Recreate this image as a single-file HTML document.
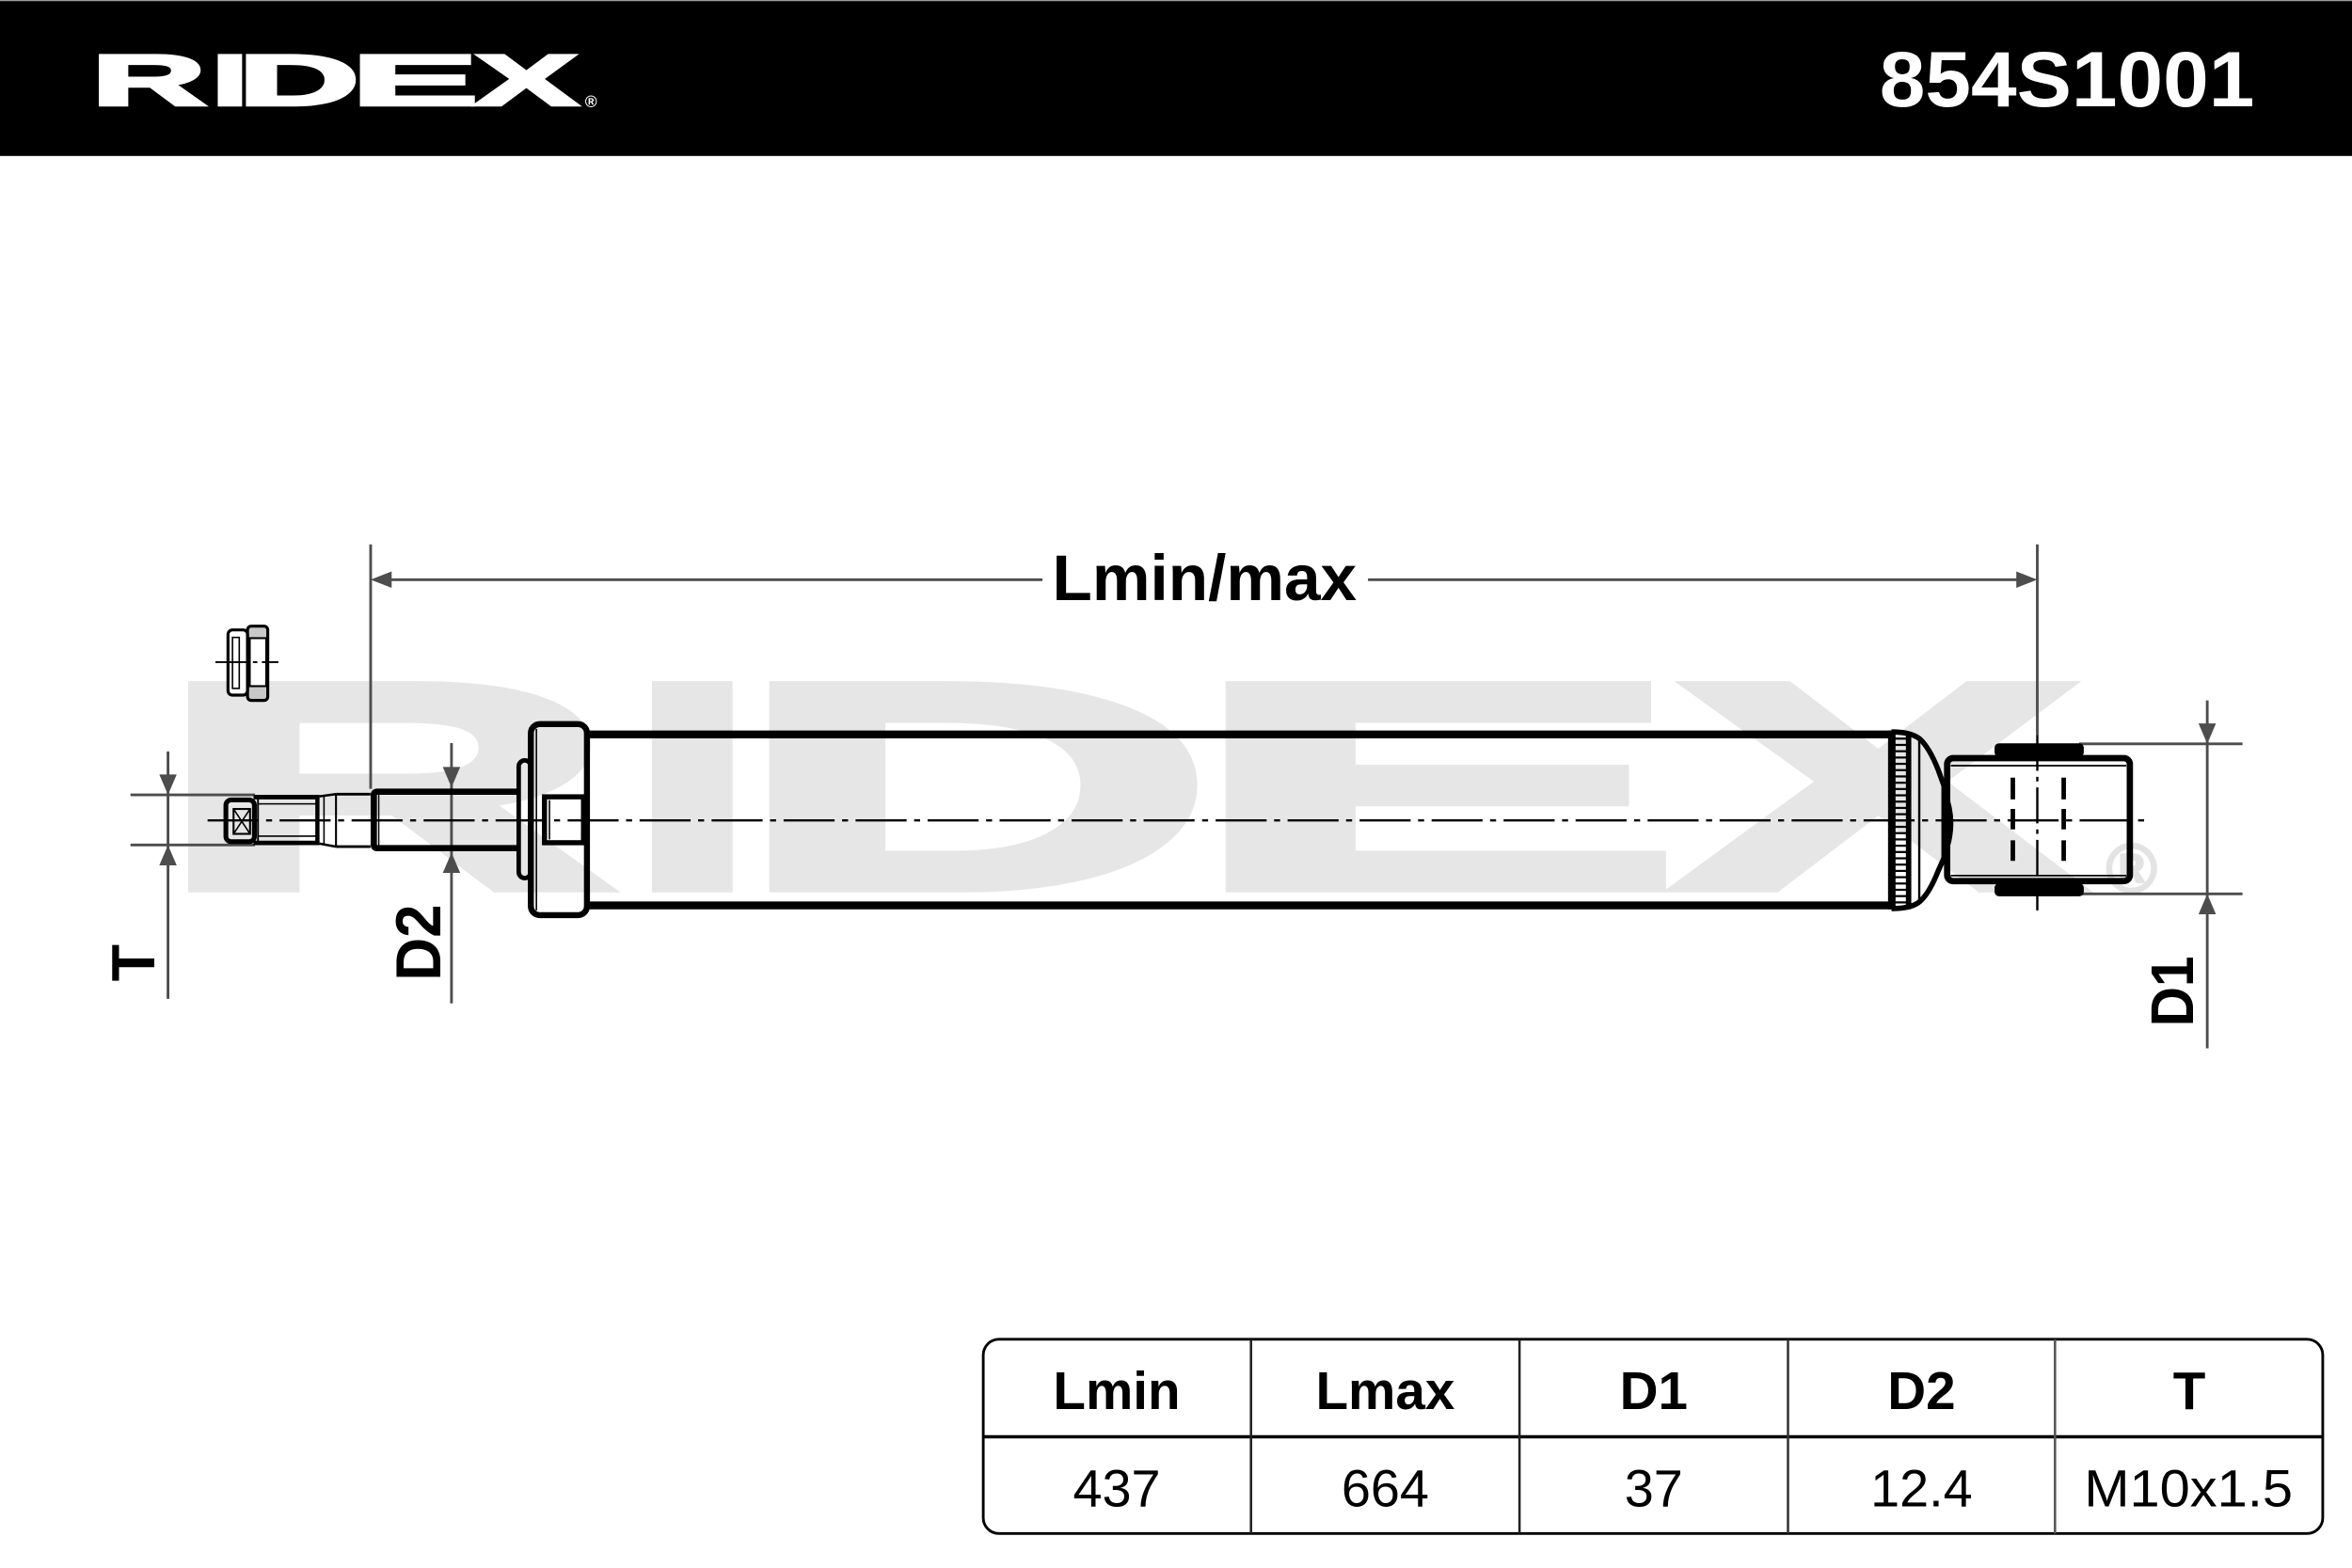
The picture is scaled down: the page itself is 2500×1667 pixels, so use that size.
<!DOCTYPE html>
<html>
<head>
<meta charset="utf-8">
<style>
  html, body { margin: 0; padding: 0; background: #ffffff; }
  body { width: 2500px; height: 1667px; overflow: hidden; }
  svg { display: block; }
  .b { font-family: "Liberation Sans", Arial, sans-serif; font-weight: bold; }
  .r { font-family: "Liberation Sans", Arial, sans-serif; font-weight: normal; }
</style>
</head>
<body>
<svg width="2500" height="1667" viewBox="0 0 1568 1045.5" preserveAspectRatio="none" xmlns="http://www.w3.org/2000/svg">
  <!-- background -->
  <rect x="0" y="0" width="1568" height="1045.5" fill="#ffffff"/>

  <!-- header band -->
  <rect x="0" y="0" width="1568" height="104" fill="#000000"/>
  <line x1="0" y1="0.4" x2="1568" y2="0.4" stroke="#9a9a9a" stroke-width="0.8"/>

  <!-- header logo -->
  <g class="b" fill="#ffffff" stroke="#ffffff" stroke-width="2" font-size="48" text-anchor="middle" lengthAdjust="spacingAndGlyphs">
    <text x="99.2" y="70" textLength="76.3" lengthAdjust="spacingAndGlyphs">R</text>
    <text x="153.3" y="70" textLength="24.3" lengthAdjust="spacingAndGlyphs">I</text>
    <text x="199.2" y="70" textLength="80.8" lengthAdjust="spacingAndGlyphs">D</text>
    <text x="276.5" y="70" textLength="84.8" lengthAdjust="spacingAndGlyphs">E</text>
    <text x="350.9" y="70" textLength="68.5" lengthAdjust="spacingAndGlyphs">X</text>
  </g>
  <text class="b" x="394" y="71.5" font-size="11" fill="#ffffff" text-anchor="middle">®</text>

  <text class="b" x="1253" y="71" font-size="52.5" fill="#ffffff" textLength="250" lengthAdjust="spacingAndGlyphs">854S1001</text>

  <!-- watermark -->
  <g class="b" fill="#e6e6e6" stroke="#e6e6e6" stroke-width="6" stroke-linejoin="miter" font-size="196" text-anchor="middle">
    <text x="257" y="592" textLength="307" lengthAdjust="spacingAndGlyphs">R</text>
    <text x="461.5" y="592" textLength="85.5" lengthAdjust="spacingAndGlyphs">I</text>
    <text x="650" y="592" textLength="320" lengthAdjust="spacingAndGlyphs">D</text>
    <text x="957" y="592" textLength="331" lengthAdjust="spacingAndGlyphs">E</text>
    <text x="1252" y="592" textLength="272" lengthAdjust="spacingAndGlyphs">X</text>
  </g>
  <text class="b" x="1421" y="595" font-size="46" fill="#e3e3e3" stroke="#e3e3e3" stroke-width="1.5" text-anchor="middle">®</text>

  <!-- ================= DIMENSIONS (gray) ================= -->
  <g stroke="#4d4d4d" stroke-width="1.8" fill="none">
    <!-- Lmin/max -->
    <line x1="247.1" y1="363" x2="247.1" y2="526"/>
    <line x1="1358.2" y1="363" x2="1358.2" y2="490"/>
    <line x1="250" y1="386.5" x2="695" y2="386.5"/>
    <line x1="912" y1="386.5" x2="1355" y2="386.5"/>
    <!-- T -->
    <line x1="87" y1="530" x2="170" y2="530"/>
    <line x1="87" y1="563.4" x2="170" y2="563.4"/>
    <line x1="112" y1="501" x2="112" y2="666"/>
    <!-- D2 -->
    <line x1="301" y1="495.5" x2="301" y2="669"/>
    <!-- D1 -->
    <line x1="1386" y1="496" x2="1495" y2="496"/>
    <line x1="1386" y1="596" x2="1495" y2="596"/>
    <line x1="1471.5" y1="467" x2="1471.5" y2="699"/>
  </g>
  <g fill="#4d4d4d">
    <!-- Lmin arrows -->
    <polygon points="247.1,386.5 261.1,381 261.1,392"/>
    <polygon points="1358.2,386.5 1344.2,381 1344.2,392"/>
    <!-- T arrows -->
    <polygon points="112,530 106.2,516.4 117.8,516.4"/>
    <polygon points="112,563.4 106.2,577 117.8,577"/>
    <!-- D2 arrows -->
    <polygon points="301,525 295.2,511.4 306.8,511.4"/>
    <polygon points="301,568.5 295.2,582 306.8,582"/>
    <!-- D1 arrows -->
    <polygon points="1471.5,496 1465.7,482.4 1477.3,482.4"/>
    <polygon points="1471.5,596 1465.7,609.6 1477.3,609.6"/>
  </g>

  <!-- dimension labels -->
  <text class="b" x="701.5" y="400" font-size="43" fill="#000" textLength="203" lengthAdjust="spacingAndGlyphs">Lmin/max</text>
  <text class="b" transform="translate(103,642) rotate(-90)" font-size="40.5" fill="#000" text-anchor="middle">T</text>
  <text class="b" transform="translate(293.5,628.5) rotate(-90)" font-size="42.5" fill="#000" text-anchor="middle" textLength="51" lengthAdjust="spacingAndGlyphs">D2</text>
  <text class="b" transform="translate(1462,661) rotate(-90)" font-size="40" fill="#000" text-anchor="middle" textLength="47" lengthAdjust="spacingAndGlyphs">D1</text>

  <!-- ================= NUT ================= -->
  <g stroke="#000" fill="#ffffff">
    <rect x="165" y="417.5" width="13.5" height="49.5" rx="2.5" fill="#c8c8c8" stroke-width="2"/>
    <rect x="166.5" y="425.5" width="11" height="32" fill="#ffffff" stroke-width="1.3"/>
    <rect x="152" y="420" width="13" height="43.5" rx="3" stroke-width="2"/>
    <rect x="155" y="425" width="4.5" height="34" fill="none" stroke-width="1"/>
  </g>
  <line x1="143.6" y1="441.5" x2="185.6" y2="441.5" stroke="#000" stroke-width="1.2" stroke-dasharray="22 3 3 3"/>

  <!-- ================= CENTERLINE ================= -->
  <line x1="138.4" y1="547" x2="1431" y2="547" stroke="#000" stroke-width="1.5" stroke-dasharray="34 5 4 5"/>

  <!-- ================= ROD END (threaded stub) ================= -->
  <g stroke="#000" fill="none">
    <!-- end cap -->
    <rect x="150.6" y="533.4" width="19" height="27.8" rx="3.5" stroke-width="3.2"/>
    <rect x="155.7" y="539.4" width="11" height="16.6" stroke-width="1.3"/>
    <line x1="155.7" y1="539.4" x2="166.7" y2="556" stroke-width="1"/>
    <line x1="166.7" y1="539.4" x2="155.7" y2="556" stroke-width="1"/>
    <!-- thread -->
    <line x1="169" y1="531.5" x2="213" y2="531.5" stroke-width="3"/>
    <line x1="169" y1="562" x2="213" y2="562" stroke-width="3"/>
    <line x1="172" y1="536" x2="211" y2="536" stroke-width="1"/>
    <line x1="172" y1="557.5" x2="211" y2="557.5" stroke-width="1"/>
    <line x1="172" y1="531.5" x2="172" y2="562" stroke-width="1.2"/>
    <line x1="211.6" y1="530.5" x2="211.6" y2="563" stroke-width="2.8"/>
    <!-- taper -->
    <line x1="213" y1="531" x2="224" y2="529.5" stroke-width="1.6"/>
    <line x1="213" y1="562.5" x2="224" y2="564.5" stroke-width="1.6"/>
    <line x1="216" y1="531" x2="216" y2="562.5" stroke-width="1"/>
    <!-- neck -->
    <line x1="224" y1="529.5" x2="247" y2="529.5" stroke-width="1.8"/>
    <line x1="224" y1="564.5" x2="247" y2="564.5" stroke-width="1.8"/>
    <line x1="224" y1="529.5" x2="224" y2="564.5" stroke-width="1.3"/>
    <!-- rod -->
    <path d="M346 527.9 L251.5 527.9 Q249.2 527.9 249.2 530.2 L249.2 563.2 Q249.2 565.5 251.5 565.5 L346 565.5" stroke-width="4.2"/>
    <line x1="252.5" y1="530" x2="252.5" y2="563.5" stroke-width="0.9"/>
  </g>

  <!-- ================= FLANGE ================= -->
  <g stroke="#000" fill="none">
    <rect x="345.8" y="507" width="8" height="78.5" rx="4" stroke-width="3"/>
    <rect x="353.9" y="482.8" width="37.4" height="127.4" rx="6" stroke-width="4"/>
    <line x1="357.6" y1="486" x2="357.6" y2="607" stroke-width="1"/>
    <rect x="363" y="531.3" width="26" height="30.6" stroke-width="3.4"/>
    <line x1="366.3" y1="533.5" x2="366.3" y2="559.7" stroke-width="1"/>
  </g>

  <!-- ================= BODY ================= -->
  <g stroke="#000" fill="none">
    <line x1="391" y1="489.7" x2="1262" y2="489.7" stroke-width="5.2"/>
    <line x1="391" y1="603.7" x2="1262" y2="603.7" stroke-width="5.2"/>
    <!-- knurled ring -->
    <line x1="1261.2" y1="487.1" x2="1261.2" y2="606.3" stroke-width="5"/>
    <line x1="1272.4" y1="489" x2="1272.4" y2="604.5" stroke-width="3.6"/>
    <g stroke-width="1.4">
      <line x1="1263" y1="492.5" x2="1271" y2="492.5"/>
      <line x1="1263" y1="496.7" x2="1271" y2="496.7"/>
      <line x1="1263" y1="500.9" x2="1271" y2="500.9"/>
      <line x1="1263" y1="505.1" x2="1271" y2="505.1"/>
      <line x1="1263" y1="509.3" x2="1271" y2="509.3"/>
      <line x1="1263" y1="513.5" x2="1271" y2="513.5"/>
      <line x1="1263" y1="517.7" x2="1271" y2="517.7"/>
      <line x1="1263" y1="521.9" x2="1271" y2="521.9"/>
      <line x1="1263" y1="526.1" x2="1271" y2="526.1"/>
      <line x1="1263" y1="530.3" x2="1271" y2="530.3"/>
      <line x1="1263" y1="534.5" x2="1271" y2="534.5"/>
      <line x1="1263" y1="538.7" x2="1271" y2="538.7"/>
      <line x1="1263" y1="542.9" x2="1271" y2="542.9"/>
      <line x1="1263" y1="547.1" x2="1271" y2="547.1"/>
      <line x1="1263" y1="551.3" x2="1271" y2="551.3"/>
      <line x1="1263" y1="555.5" x2="1271" y2="555.5"/>
      <line x1="1263" y1="559.7" x2="1271" y2="559.7"/>
      <line x1="1263" y1="563.9" x2="1271" y2="563.9"/>
      <line x1="1263" y1="568.1" x2="1271" y2="568.1"/>
      <line x1="1263" y1="572.3" x2="1271" y2="572.3"/>
      <line x1="1263" y1="576.5" x2="1271" y2="576.5"/>
      <line x1="1263" y1="580.7" x2="1271" y2="580.7"/>
      <line x1="1263" y1="584.9" x2="1271" y2="584.9"/>
      <line x1="1263" y1="589.1" x2="1271" y2="589.1"/>
      <line x1="1263" y1="593.3" x2="1271" y2="593.3"/>
      <line x1="1263" y1="597.5" x2="1271" y2="597.5"/>
      <line x1="1263" y1="601.7" x2="1271" y2="601.7"/>
    </g>
    <!-- dome -->
    <path d="M1261 488 C1270 488 1276 489.5 1280 492.8 C1284 496.5 1288 503 1292 513 L1296 524 L1296 572 L1292 581 C1288 591 1284 597.5 1280 601 C1276 604.5 1270 605.8 1261 605.8" stroke-width="3.5"/>
    <line x1="1279.5" y1="493" x2="1279.5" y2="601" stroke-width="1.5"/>
    <path d="M1296.5 528 Q1305 549 1296.5 570" stroke-width="3"/>
  </g>

  <!-- ================= EYE ================= -->
  <g stroke="#000">
    <rect x="1329.7" y="495.6" width="59.5" height="9" rx="3" fill="#000" stroke="none"/>
    <rect x="1329.7" y="589" width="59.5" height="8.6" rx="3" fill="#000" stroke="none"/>
    <rect x="1298.1" y="505.5" width="121.8" height="82" rx="4" fill="none" stroke-width="4.2"/>
    <line x1="1300.5" y1="510.5" x2="1417.5" y2="510.5" stroke-width="1.1"/>
    <line x1="1300.5" y1="583.8" x2="1417.5" y2="583.8" stroke-width="1.1"/>
    <g stroke-width="3">
      <line x1="1341.9" y1="518.5" x2="1341.9" y2="533"/>
      <line x1="1341.9" y1="539.4" x2="1341.9" y2="553"/>
      <line x1="1341.9" y1="560.3" x2="1341.9" y2="574"/>
      <line x1="1375.8" y1="518.5" x2="1375.8" y2="533"/>
      <line x1="1375.8" y1="539.4" x2="1375.8" y2="553"/>
      <line x1="1375.8" y1="560.3" x2="1375.8" y2="574"/>
    </g>
    <line x1="1358.2" y1="490" x2="1358.2" y2="607" stroke-width="1.5" stroke-dasharray="24 4 3 4"/>
  </g>

  <!-- ================= TABLE ================= -->
  <g fill="none">
    <rect x="655.5" y="893" width="893" height="129.5" rx="10.5" stroke="#000" stroke-width="1.8"/>
    <line x1="655.5" y1="958" x2="1548.5" y2="958" stroke="#000" stroke-width="2.2"/>
    <line x1="834" y1="893" x2="834" y2="1022.5" stroke="#222" stroke-width="1.6"/>
    <line x1="1013" y1="893" x2="1013" y2="1022.5" stroke="#222" stroke-width="1.6"/>
    <line x1="1192" y1="893" x2="1192" y2="1022.5" stroke="#333" stroke-width="1.6"/>
    <line x1="1370" y1="893" x2="1370" y2="1022.5" stroke="#555" stroke-width="1.6"/>
  </g>
  <g class="b" font-size="35.5" fill="#000" text-anchor="middle">
    <text x="744.5" y="939.5">Lmin</text>
    <text x="923.5" y="939.5">Lmax</text>
    <text x="1102.5" y="939.5">D1</text>
    <text x="1281" y="939.5">D2</text>
    <text x="1459.5" y="939.5">T</text>
  </g>
  <g class="r" font-size="35" fill="#000" text-anchor="middle">
    <text x="744.5" y="1004.5">437</text>
    <text x="923.5" y="1004.5">664</text>
    <text x="1102.5" y="1004.5">37</text>
    <text x="1281" y="1004.5">12.4</text>
    <text x="1459" y="1004.5" textLength="139" lengthAdjust="spacingAndGlyphs">M10x1.5</text>
  </g>
</svg>
</body>
</html>
